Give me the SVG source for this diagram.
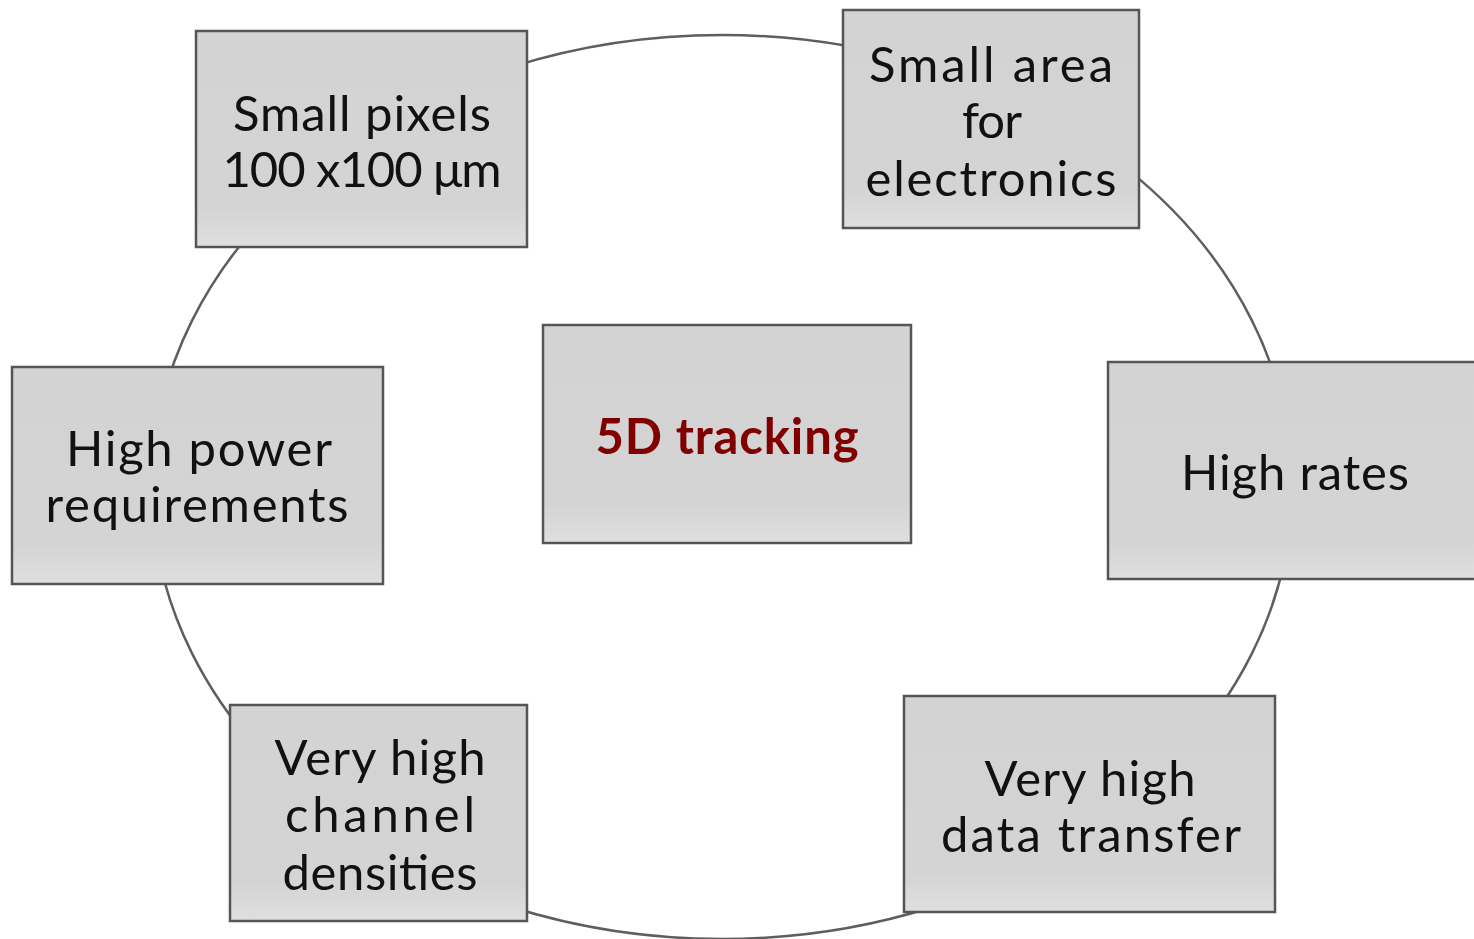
<svg xmlns="http://www.w3.org/2000/svg" width="1474" height="939" viewBox="0 0 1474 939">
<defs>
<linearGradient id="g" x1="0" y1="0" x2="0" y2="1">
<stop offset="0" stop-color="#d3d3d3"/>
<stop offset="0.82" stop-color="#d4d4d4"/>
<stop offset="1" stop-color="#dfdfdf"/>
</linearGradient>
<style>
.box{fill:url(#g);stroke:#555;stroke-width:2.5}
.t{font-family:"Lato","Liberation Sans",sans-serif;font-size:49px;fill:#111;text-anchor:middle}
.c{font-family:"Lato","Liberation Sans",sans-serif;font-size:49px;font-weight:bold;fill:#800000;text-anchor:middle}
</style>
</defs>
<rect width="1474" height="939" fill="#fff"/>
<g id="connectors">
<ellipse cx="722" cy="487" rx="570" ry="452" fill="none" stroke="#5e5e5e" stroke-width="2.5"/>
</g>
<g id="n-small-pixels">
<rect class="box" x="196" y="31" width="331" height="216"/>
<text class="t" x="362" y="131" textLength="258">Small pixels</text>
<text class="t" x="362" y="187" textLength="279">100 x100 μm</text>
</g>
<g id="n-small-area">
<rect class="box" x="843" y="10" width="296" height="218"/>
<text class="t" x="991" y="82" textLength="244">Small area</text>
<text class="t" x="992" y="138" textLength="60">for</text>
<text class="t" x="991" y="196" textLength="251">electronics</text>
</g>
<g id="n-high-power">
<rect class="box" x="12" y="367" width="371" height="217"/>
<text class="t" x="199" y="466" textLength="266">High power</text>
<text class="t" x="197" y="522" textLength="303">requirements</text>
</g>
<g id="n-5d">
<rect class="box" x="543" y="325" width="368" height="218"/>
<text class="c" x="727" y="454" textLength="263">5D tracking</text>
</g>
<g id="n-high-rates">
<rect class="box" x="1108" y="362" width="370" height="217"/>
<text class="t" x="1295" y="490" textLength="228">High rates</text>
</g>
<g id="n-channel">
<rect class="box" x="230" y="705" width="297" height="216"/>
<text class="t" x="380" y="775" textLength="211">Very high</text>
<text class="t" x="380" y="832" textLength="190">channel</text>
<text class="t" x="380" y="890" textLength="195">densities</text>
</g>
<g id="n-data">
<rect class="box" x="904" y="696" width="371" height="216"/>
<text class="t" x="1090" y="796" textLength="211">Very high</text>
<text class="t" x="1091" y="852" textLength="300">data transfer</text>
</g>
</svg>
